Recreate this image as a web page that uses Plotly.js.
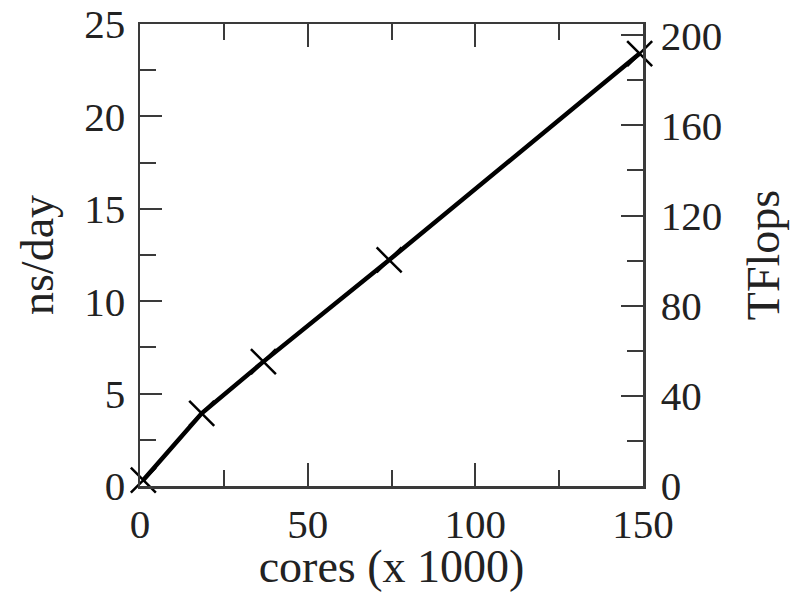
<!DOCTYPE html>
<html>
<head>
<meta charset="utf-8">
<script src="https://cdn.plot.ly/plotly-3.0.1.min.js"></script>
<style>html,body{margin:0;padding:0;background:#fff;}</style>
</head>
<body>
<div id="chart" style="width:798px;height:592px;"></div>
<script>
const cores = [1.0, 18.4, 36.8, 74.3, 149.0];
const nsPerDay = [0.32, 3.93, 6.73, 12.23, 23.4];
const xTicks = [0, 50, 100, 150];
const yTicks = [0, 5, 10, 15, 20, 25];
const y2Ticks = [0, 40, 80, 120, 160, 200];

const axisColor = '#3a3a3a';
const tickFont = {family: 'Liberation Serif, Times New Roman, serif', size: 41, color: '#222'};
const titleFont = {family: 'Liberation Serif, Times New Roman, serif', size: 46, color: '#222'};

const traces = [
  {
    x: cores, y: nsPerDay, type: 'scatter', mode: 'lines+markers',
    line: {color: '#000', width: 4.5},
    marker: {symbol: 'x-thin-open', size: 25, color: '#000', line: {color: '#000', width: 2.5}},
    showlegend: false, hoverinfo: 'skip', cliponaxis: false
  },
  {
    x: [], y: [], yaxis: 'y2', type: 'scatter', mode: 'markers', showlegend: false, hoverinfo: 'skip'
  }
];

const layout = {
  width: 798, height: 592,
  margin: {l: 140, r: 155, t: 24, b: 106},
  paper_bgcolor: '#fff', plot_bgcolor: '#fff',
  showlegend: false,
  xaxis: {
    range: [0, 150], tickvals: xTicks, ticktext: xTicks.map(String),
    ticks: 'inside', ticklen: 23, tickwidth: 2, tickcolor: axisColor,
    minor: {ticks: 'inside', dtick: 25, ticklen: 16, tickwidth: 2, tickcolor: axisColor, showgrid: false},
    showline: true, linecolor: axisColor, linewidth: 2.5, mirror: 'ticks',
    showgrid: false, zeroline: false, tickfont: tickFont,
    title: {text: 'cores (x 1000)', font: titleFont, standoff: 12}
  },
  yaxis: {
    range: [0, 25], tickvals: yTicks, ticktext: yTicks.map(String),
    ticks: 'inside', ticklen: 22, tickwidth: 2, tickcolor: axisColor,
    minor: {ticks: 'inside', dtick: 2.5, ticklen: 16, tickwidth: 2, tickcolor: axisColor, showgrid: false},
    showline: true, linecolor: axisColor, linewidth: 2.5,
    showgrid: false, zeroline: false, tickfont: tickFont, ticklabelstandoff: 4,
    title: {text: 'ns/day', font: titleFont, standoff: 16}
  },
  yaxis2: {
    overlaying: 'y', side: 'right', anchor: 'x',
    range: [0, 205], tickvals: y2Ticks, ticktext: y2Ticks.map(String),
    ticks: 'inside', ticklen: 22, tickwidth: 2, tickcolor: axisColor,
    minor: {ticks: 'inside', dtick: 20, ticklen: 16, tickwidth: 2, tickcolor: axisColor, showgrid: false},
    showline: true, linecolor: axisColor, linewidth: 2.5,
    showgrid: false, zeroline: false, tickfont: tickFont, ticklabelstandoff: 7,
    title: {text: 'TFlops', font: titleFont, standoff: 26}
  }
};

Plotly.newPlot('chart', traces, layout, {displayModeBar: false, staticPlot: true});
</script>
</body>
</html>
